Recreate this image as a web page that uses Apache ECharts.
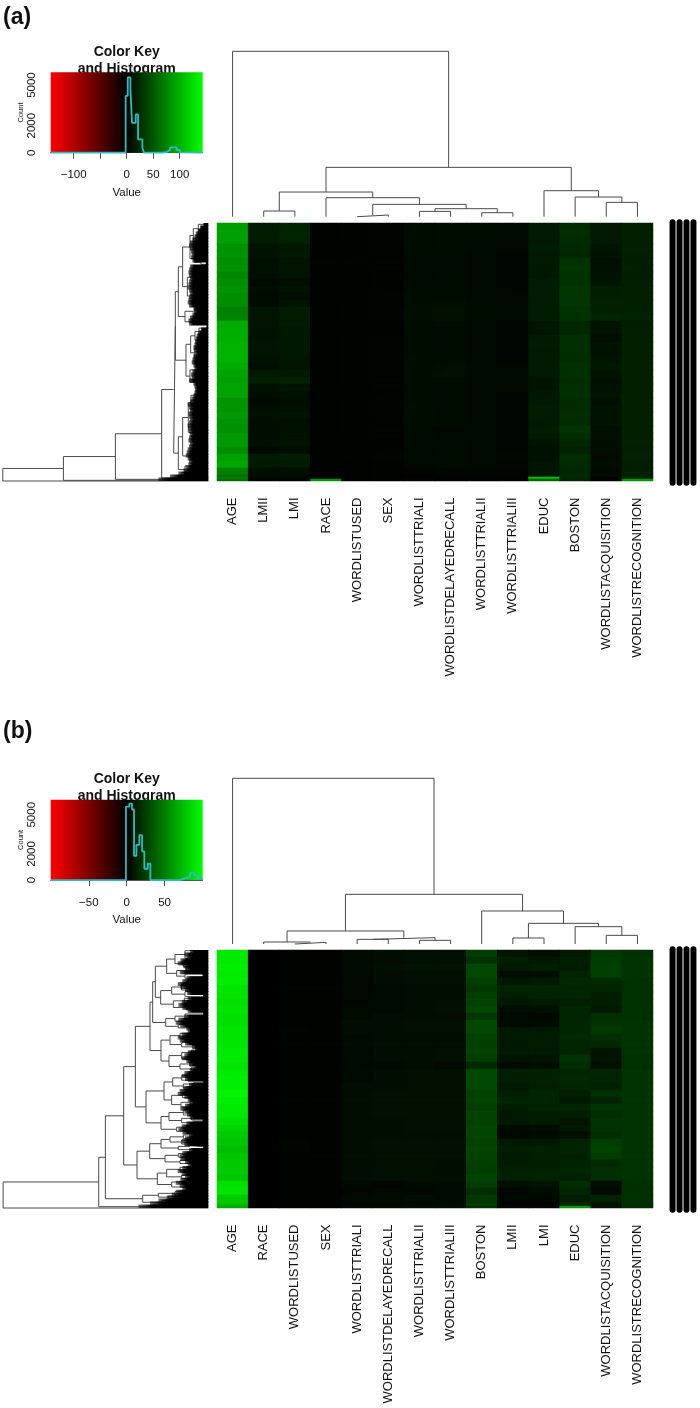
<!DOCTYPE html>
<html>
<head>
<meta charset="utf-8">
<style>html,body{margin:0;padding:0;background:#fff}#c{width:700px;height:1408px}</style>
<script src="https://cdn.jsdelivr.net/npm/echarts@6/dist/echarts.min.js"></script>
</head>
<body>
<div id="c"></div>
<script>
// ---------- panel (a) ----------
const labelsA = ['AGE','LMII','LMI','RACE','WORDLISTUSED','SEX','WORDLISTTRIALI','WORDLISTDELAYEDRECALL','WORDLISTTRIALII','WORDLISTTRIALIII','EDUC','BOSTON','WORDLISTACQUISITION','WORDLISTRECOGNITION'];
const ageA = [88,90,90,82,84,80,82,76,80,84,80,80,72,74,96,98,98,100,100,100,96,92,90,92,92,84,84,86,82,82,86,86,80,90,94,72];
const lmiiA = [16,16,15,10,10,9,9,8,5,8,6,6,12,12,12,10,10,11,11,10,8,14,18,9,8,5,8,9,8,8,8,9,5,16,14,8];
const lmiA = [20,20,19,13,14,12,12,10,8,10,8,10,16,15,15,13,13,14,13,12,11,14,18,11,9,7,9,10,9,9,10,10,8,17,14,8];
const raceA = [1,1,1,1,1,2,1,1,1,1,1,1,1,1,1,1,1,1,1,1,1,1,1,2,1,1,1,1,1,1,1,1,1,1,1,1];
const usedA = [2,2,2,2,1,2,2,1,1,1,2,2,2,2,1,1,2,2,2,2,2,2,2,1,1,2,2,2,2,2,2,2,1,2,1,1];
const sexA = [3,3,3,3,2,3,3,2,2,2,3,3,3,3,2,2,3,3,3,3,3,3,3,3,2,3,3,3,2,3,3,2,2,3,2,2];
const trial1A = [6,6,7,6,6,6,6,5,6,6,7,7,8,8,6,6,6,6,6,7,7,7,7,6,6,6,7,7,7,6,6,6,5,6,5,3];
const delayedA = [7,7,7,7,6,6,6,6,6,6,7,8,9,9,7,6,6,6,7,7,8,9,7,6,6,6,6,6,6,4,5,6,6,6,6,3];
const trial2A = [6,6,6,6,5,5,5,5,5,5,5,6,6,6,5,5,5,5,5,5,6,6,5,5,5,5,5,5,5,5,5,5,5,5,5,3];
const trial3A = [5,5,5,5,4,4,4,4,4,4,5,5,5,5,4,4,4,4,4,4,5,5,5,5,4,4,4,4,4,4,4,4,4,5,4,3];
const educA = [14,14,14,15,14,14,13,13,15,16,15,15,16,16,12,12,14,15,14,14,14,14,12,12,13,14,15,16,14,16,14,10,9,9,12,12];
const bostonA = [24,26,24,23,22,28,29,28,28,30,30,29,28,28,22,22,26,26,26,25,27,27,25,26,27,24,24,25,24,29,26,22,19,25,24,22];
const acqA = [14,14,14,11,10,8,9,10,12,17,17,18,18,20,11,10,8,10,10,12,13,12,9,10,11,9,10,10,10,8,9,8,8,7,8,6];
const recogA = [18,18,18,18,17,17,17,17,18,18,18,18,19,19,17,18,18,18,18,18,18,18,18,18,18,18,18,18,18,18,18,18,17,18,17,17];
const bottomRowsA = [
  [60,8,8,1,1,2,3,3,3,3,14,24,6,18],
  [72,4,4,1,1,2,2,2,2,2,105,22,1,18],
  [62,3,3,85,2,3,-8,-3,2,2,60,20,3,85]
];
const histEdgesA = [-143.4,-2,2,7,10,17,21.4,29.6,32.7,69,75.5,82,94,100.6,104,143.4];
const histCountsA = [0,4200,5560,4750,2200,2830,980,370,0,60,200,400,200,30,0,0];
const colMergesA = [[-5,-6,5],[-7,-8,16],[-9,-10,12],[2,3,24],[1,4,37],[-4,5,57],[-2,-3,17],[7,6,74],[-13,-14,43],[-12,9,59],[-11,10,78],[8,11,148],[-1,12,496]];
const rowTreeA = [617,[435,[279,[140,[104,
  [99,
    [90,
      [77,
        [55,[45,[30,14,40],[30,55,80]],[42,[28,97,113],[22,122,134]]],
        [63,[48,[30,150,170],[25,178,192]],[45,[32,205,225],[24,235,250]]]],
      [70,[40,[25,258,272],[20,278,290]],[38,[24,295,305],312]]],
    [67,
      [53,[40,[28,325,345],[25,352,370]],[42,[25,378,395],[28,402,420]]],
      [55,[30,440,460],[36,[20,470,485],[24,490,505]]]]],
  [90,
    [77,
      [60,[52,[32,512,540],[34,550,590]],[46,[28,600,630],[30,640,680]]],
      [55,[30,690,705],[28,712,725]]],
    [70,[45,730,745],[50,750,770]]]],
  774],778],781],783];
const fringeA = [15,25,32,38,42,48,55,58,55,52,50,52,48,8,55,58,60,58,55,58,60,62,58,55,58,60,62,58,45,42,48,55,60,58,6,22,30,35,38,40,42,45,42,40,45,48,50,45,42,48,52,50,58,45,42,40,42,45,50,55,62,58,55,60,58,55,58,62,60,58,55,58,60,55,58,62,65,68,62,58,60,68,75,90,115,150];

// ---------- panel (b) ----------
const labelsB = ['AGE','RACE','WORDLISTUSED','SEX','WORDLISTTRIALI','WORDLISTDELAYEDRECALL','WORDLISTTRIALII','WORDLISTTRIALIII','BOSTON','LMII','LMI','EDUC','WORDLISTACQUISITION','WORDLISTRECOGNITION'];
const ageB = [92,92,94,92,94,90,90,88,90,88,88,90,90,90,92,92,90,92,94,94,96,94,92,92,88,84,80,78,74,78,80,80,78,88,90,80];
const raceB = [0,0,0,0,0,0,0,0,0,0,0,0,0,0,0,0,0,0,0,0,0,0,0,0,0,0,0,0,0,0,0,0,0,0,0,0];
const usedB = [1,1,1,1,1,1,1,1,1,1,1,2,1,1,1,1,1,1,1,1,1,1,1,1,1,1,1,2,2,1,1,1,1,1,1,1];
const sexB = [1,1,1,1,1,2,1,1,1,1,1,1,1,1,1,1,1,1,1,1,1,1,1,1,1,1,1,1,1,1,1,1,1,1,1,1];
const trial1B = [4,4,4,4,3,3,3,3,4,4,5,5,4,4,4,4,3,4,4,5,5,5,5,5,5,5,5,5,5,5,5,5,5,3,2,3];
const delayedB = [5,5,6,5,5,4,4,4,4,5,5,5,5,5,5,5,4,5,5,5,6,6,6,6,5,5,5,6,6,6,6,6,6,2,3,4];
const trial2B = [6,6,7,6,6,5,5,5,5,5,6,6,5,5,5,5,5,6,6,6,6,6,6,6,6,6,5,6,6,6,6,6,6,4,3,5];
const trial3B = [6,6,7,6,6,5,5,6,6,5,6,6,5,5,6,6,4,6,6,6,6,6,6,6,6,6,5,6,6,6,5,5,6,4,4,4];
const bostonB = [24,20,28,28,24,22,24,26,28,22,28,28,26,25,26,25,16,28,28,28,26,26,24,26,26,27,27,26,27,26,25,24,26,24,18,22];
const lmiiB = [8,12,10,5,9,14,12,10,5,3,3,9,10,9,10,8,4,12,12,10,12,14,12,9,10,4,3,10,12,10,11,12,13,6,2,3];
const lmiB = [6,10,12,6,10,14,13,10,6,3,4,10,11,11,10,8,5,13,13,12,14,14,13,11,11,5,4,10,13,13,12,13,14,8,4,3];
const educB = [10,12,11,14,16,14,14,12,15,14,15,15,16,15,14,20,18,15,16,15,12,10,14,12,8,10,6,14,14,13,14,15,13,18,14,11];
const acqB = [22,24,25,25,16,15,12,12,10,18,20,22,18,16,8,8,6,15,14,13,18,14,20,18,20,20,18,24,26,24,16,18,18,5,4,14];
const recogB = [19,20,20,20,19,19,19,19,19,19,20,20,20,20,20,19,19,20,20,20,20,20,20,20,20,20,20,20,20,20,20,20,20,19,19,19];
const bottomRowsB = [
  [80,1,1,1,3,3,4,4,22,1,1,14,8,18],
  [72,0,1,1,4,4,5,5,26,2,2,14,6,18],
  [68,0,1,1,5,5,6,6,18,3,3,60,8,18]
];
const histEdgesB = [-100.4,-1,3.5,7,9.7,12.8,16.7,20.3,23.3,27.8,31.3,70.5,75,83.7,89,93.4,97.8,100.4];
const histCountsB = [0,5615,5850,5400,1850,2700,3430,2200,870,1250,0,100,250,560,360,150,0,0];
const colMergesB = [[-3,-4,5],[-2,1,6],[-5,-6,14],[-7,-8,11],[3,4,19],[2,5,39],[-13,-14,26],[-12,7,52],[-10,-11,18],[9,8,62],[-9,10,99],[6,11,149],[-1,12,497]];
const rowTreeB = [616,[329,[309,[254,
  [219,
    [175,
      [167,
        [159,
          [125,[100,[70,32,55],[75,62,80]],[95,[65,85,98],[70,102,115]]],
          [143,[110,[80,132,150],[70,155,170]],[105,[72,175,190],[66,195,210]]]],
        [128,[100,[70,222,235],[60,238,248]],[90,[60,250,258],[50,260,268]]]],
      [142,[115,[85,[55,275,285],[60,288,300]],[80,[55,302,312],[48,316,325]]],[118,[80,[50,330,345],[60,350,362]],[85,[55,366,378],[50,382,392]]]]],
    [187,
      [133,[107,[80,[55,402,412],[60,416,425]],[75,[45,428,436],[50,440,448]]],[110,[78,[50,454,464],[55,468,478]],[82,[55,482,492],[48,496,505]]]],
      [142,[118,[75,510,525],[80,[50,530,540],[45,544,552]]],[95,[60,558,565],[55,570,578]]]]],
  [214,
    [176,
      [142,[115,[75,585,596],[80,600,612]],[90,[55,616,622],[50,626,632]]],
      [130,[90,[55,636,645],[60,648,655]],[85,[50,658,664],[45,667,674]]]],
    [153,[125,[85,[55,678,686],[60,690,698]],[80,[50,702,710],[48,712,718]]],[110,[70,722,730],[65,734,748]]]]],
  [197,[150,[100,755,765],[120,768,775]],[140,[90,778,786],[110,788,795]]]],800],804];
const fringeB = [55,72,66,84,92,75,70,86,18,66,78,92,84,70,64,16,62,80,90,78,62,16,72,90,98,84,66,62,80,92,86,70,48,40,62,72,80,66,58,42,56,72,80,70,16,58,75,86,92,72,62,56,70,84,72,64,56,18,66,80,90,78,58,70,80,72,16,58,78,86,84,70,62,78,92,80,70,84,98,86,78,98,110,125,150,175,210];

const sideStripeRows = [1.2, 98.8];
const sideStripes = [1, 2, 3, 4];
const keyColours = ['#ff0000', '#000000', '#00ff00'];

// ---------- assembly ----------
const chart = echarts.init(document.getElementById('c'));
const grid = [], xAxis = [], yAxis = [], series = [], visualMap = [];
const FONT = 'Liberation Sans';
const hidden = {show:false};
function addGrid(l, t, w, h, xa, ya, extra) {
  const i = grid.length;
  grid.push(Object.assign({left:l, top:t, width:w, height:h, containLabel:false}, extra || {}));
  xAxis.push(Object.assign({gridIndex:i, axisLine:hidden, axisTick:hidden, axisLabel:hidden, splitLine:hidden}, xa));
  yAxis.push(Object.assign({gridIndex:i, axisLine:hidden, axisTick:hidden, axisLabel:hidden, splitLine:hidden}, ya));
  return i;
}
function mergeSegments(merges) {
  const nodes = [], pts = [];
  const get = k => k < 0 ? {x:-k, h:0} : nodes[k - 1];
  merges.forEach(m => {
    const a = get(m[0]), b = get(m[1]);
    pts.push([a.x, a.h], [a.x, m[2]], [b.x, m[2]], [b.x, b.h], [NaN, NaN]);
    nodes.push({x:(a.x + b.x) / 2, h:m[2]});
  });
  return pts;
}
function treeSegments(tree) {
  const pts = [];
  const walk = n => {
    if (typeof n === 'number') return {y:n, h:0};
    const a = walk(n[1]), b = walk(n[2]);
    pts.push([a.h, a.y], [n[0], a.y], [n[0], b.y], [b.h, b.y], [NaN, NaN]);
    return {y:(a.y + b.y) / 2, h:n[0]};
  };
  walk(tree);
  return pts;
}
const lineStyleDendro = {color:'#4a4a4a', width:1};
const blackPanel = {show:true, backgroundColor:'#000', borderWidth:0};
function panel(p) {
  // colour key with histogram
  const kg = addGrid(50.7, p.keyTop, 152, 80.4, {
      type:'value', min:-p.keyMax, max:p.keyMax,
      axisLine:{show:true, lineStyle:{color:'#555'}},
      axisTick:{show:true, length:6, lineStyle:{color:'#555'}, customValues:p.keyTicks},
      axisLabel:{show:true, customValues:p.keyLabels, margin:16.5, fontSize:11.5, color:'#111', fontFamily:FONT,
                 formatter:v => String(v).replace('-', '\u2212')},
      name:'Value', nameLocation:'middle', nameGap:34, nameTextStyle:{fontSize:11.5, color:'#111', fontFamily:FONT}
    }, {
      type:'value', min:0, max:p.countMax,
      axisLine:{show:true, lineStyle:{color:'#555'}},
      axisTick:{show:true, length:6, lineStyle:{color:'#555'}, customValues:[0,1000,2000,3000,4000,5000]},
      axisLabel:{show:true, customValues:[0,2000,5000], rotate:90, align:'center', verticalAlign:'bottom', margin:13, fontSize:11.5, color:'#111', fontFamily:FONT,
                 formatter:v => String(v)},
      name:'Count', nameLocation:'middle', nameGap:26, nameRotate:90, nameTextStyle:{fontSize:7.5, color:'#111', fontFamily:FONT}
    });
  series.push({type:'custom', xAxisIndex:kg, yAxisIndex:kg, silent:true, z:2,
    data:[[-p.keyMax, p.countMax, p.keyMax, 0]],
    encode:{x:[0,2], y:[1,3]},
    renderItem:(params, api) => {
      const a = api.coord([api.value(0), api.value(1)]), b = api.coord([api.value(2), api.value(3)]);
      return {type:'rect', shape:{x:a[0], y:a[1], width:b[0]-a[0], height:b[1]-a[1]},
        style:{fill:new echarts.graphic.LinearGradient(0,0,1,0,[
          {offset:0,color:keyColours[0]},{offset:.5,color:keyColours[1]},{offset:1,color:keyColours[2]}])}};
    }});
  series.push({type:'line', xAxisIndex:kg, yAxisIndex:kg, step:'end', symbol:'none', silent:true, z:3, clip:false,
    lineStyle:{color:'#2cbcc2', width:1.8},
    data:p.histEdges.map((e,i) => [e, p.histCounts[i]])});

  // column dendrogram
  const cg = addGrid(217, p.colDendTop, 436, p.colDendH, {type:'value', min:.5, max:14.5}, {type:'value', min:0, max:p.colDendMax});
  series.push({type:'line', xAxisIndex:cg, yAxisIndex:cg, symbol:'none', silent:true, clip:false, connectNulls:false,
    lineStyle:lineStyleDendro, data:mergeSegments(p.colMerges)});

  // row dendrogram: branches below, the dense leaf mass on top
  const rg = addGrid(2.8, p.heatTop, 205.5, p.heatH, {type:'value', min:0, max:617, inverse:true},
    {type:'value', min:p.rowMin, max:p.rowMax, inverse:true});
  series.push({type:'line', xAxisIndex:rg, yAxisIndex:rg, symbol:'none', silent:true, clip:false, connectNulls:false, z:2,
    lineStyle:lineStyleDendro, data:treeSegments(p.rowTree)});
  const fg = addGrid(2.8, p.heatTop, 205.5, p.heatH, {type:'value', min:0, max:617, inverse:true},
    {type:'category', inverse:true, data:p.fringe.map((v,i) => i)});
  series.push({type:'bar', xAxisIndex:fg, yAxisIndex:fg, barWidth:'135%', silent:true, z:3,
    itemStyle:{color:new echarts.graphic.LinearGradient(0,0,1,0,[
      {offset:0,color:'rgba(0,0,0,0.55)'},{offset:.22,color:'#000'},{offset:1,color:'#000'}])},
    data:p.fringe});

  // heatmap: 36 rows of 7 px, then 3 rows of 2 px at the bottom
  const rowCats = p.cols[0].map((v,i) => 'row' + (i + 1));
  const hg = addGrid(217, p.heatTop, 436, 252, {
      type:'category', data:p.labels,
      axisLabel:{show:true, interval:0, rotate:90, margin:p.labelMargin, fontSize:13, color:'#111', fontFamily:FONT}
    }, {type:'category', data:rowCats, inverse:true}, blackPanel);
  const heat = [];
  p.cols.forEach((col,c) => col.forEach((v,r) => heat.push([c, r, v])));
  const vmI = series.length;
  series.push({type:'heatmap', xAxisIndex:hg, yAxisIndex:hg, silent:true, itemStyle:{borderWidth:0}, data:heat});
  const sg = addGrid(217, p.heatTop + 252, 436, 6, {type:'category', data:p.labels},
    {type:'category', inverse:true, data:['bottom1','bottom2','bottom3']}, blackPanel);
  const strip = [];
  p.bottomRows.forEach((row,r) => row.forEach((v,c) => strip.push([c, r, v])));
  series.push({type:'heatmap', xAxisIndex:sg, yAxisIndex:sg, silent:true, data:strip});
  visualMap.push({type:'continuous', show:false, min:-p.keyMax, max:p.keyMax, seriesIndex:[vmI, vmI + 1],
    inRange:{color:keyColours}});

  // side stripes
  const bg = addGrid(669.3, p.heatTop - 4, 27.4, p.heatH + 9, {type:'value', min:.53, max:4.47}, {type:'value', min:0, max:100, inverse:true});
  sideStripes.forEach(s => series.push({type:'line', xAxisIndex:bg, yAxisIndex:bg, symbol:'none', silent:true, clip:false,
    lineStyle:{color:'#000', width:6, cap:'round'}, data:sideStripeRows.map(r => [s, r])}));
}
panel({keyTop:72.3, keyMax:143.4, countMax:5942, keyTicks:[-100,-50,0,50,100], keyLabels:[-100,0,50,100],
  histEdges:histEdgesA, histCounts:histCountsA, colDendTop:51.3, colDendH:165.4, colDendMax:496, colMerges:colMergesA,
  heatTop:223, heatH:258, rowMin:10, rowMax:783, rowTree:rowTreeA, fringe:fringeA, labels:labelsA, labelMargin:22.5,
  cols:[ageA,lmiiA,lmiA,raceA,usedA,sexA,trial1A,delayedA,trial2A,trial3A,educA,bostonA,acqA,recogA], bottomRows:bottomRowsA});
panel({keyTop:799.7, keyMax:100.4, countMax:6150, keyTicks:[-50,0,50], keyLabels:[-50,0,50],
  histEdges:histEdgesB, histCounts:histCountsB, colDendTop:778.3, colDendH:165.7, colDendMax:497, colMerges:colMergesB,
  heatTop:950, heatH:258, rowMin:30, rowMax:804, rowTree:rowTreeB, fringe:fringeB, labels:labelsB, labelMargin:22.5,
  cols:[ageB,raceB,usedB,sexB,trial1B,delayedB,trial2B,trial3B,bostonB,lmiiB,lmiB,educB,acqB,recogB], bottomRows:bottomRowsB});

const keyTitle = (top) => ({text:'Color Key\nand Histogram', left:126.7, top:top, textAlign:'center', z:0, padding:0,
  textStyle:{fontSize:14, fontWeight:'bold', color:'#111', fontFamily:FONT, lineHeight:17}});
chart.setOption({
  animation:false, backgroundColor:'#fff',
  title:[
    {text:'(a)', left:3, top:6, padding:0, textStyle:{fontSize:23, fontWeight:'bold', color:'#111', fontFamily:FONT}},
    {text:'(b)', left:3, top:720, padding:0, textStyle:{fontSize:23, fontWeight:'bold', color:'#111', fontFamily:FONT}},
    keyTitle(43.5), keyTitle(770.5)
  ],
  grid, xAxis, yAxis, series, visualMap
});
</script>
</body>
</html>
